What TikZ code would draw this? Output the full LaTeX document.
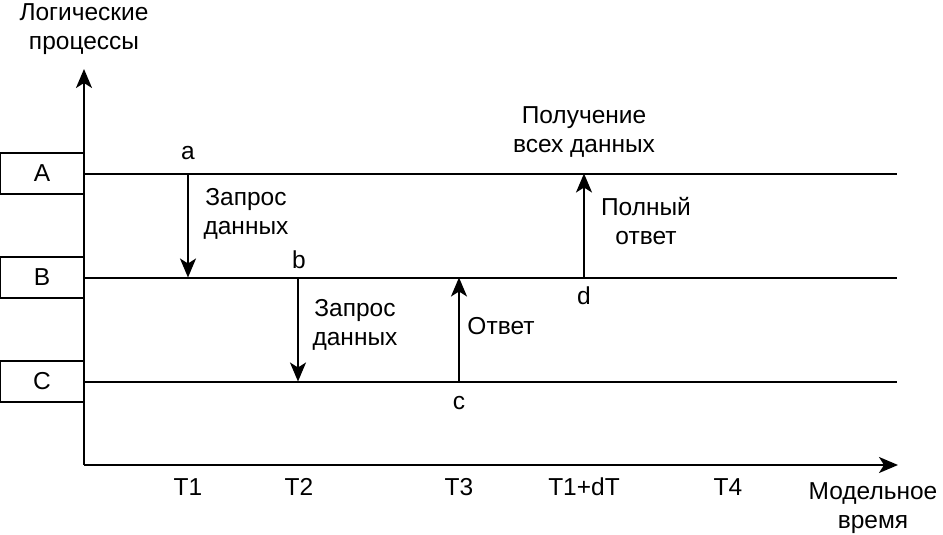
\documentclass[tikz,border=0pt]{standalone}
\usepackage{fontspec}
\setmainfont{Liberation Sans}
\usetikzlibrary{arrows.meta}
\begin{document}
\begin{tikzpicture}[x=1pt,y=-1pt,
  font=\fontsize{24.5}{29}\selectfont,
  ln/.style={line width=2pt},
  arr/.style={line width=2pt,-{Stealth[length=19pt,width=16pt,inset=5pt]}},
  proc/.style={draw,line width=2pt,minimum width=84pt,minimum height=41pt,inner sep=0pt},
  lbl/.style={align=center,inner sep=0pt}]
\useasboundingbox (0,0) rectangle (943,535);
% axes
\coordinate (o) at (84,465);
\coordinate (ytop) at (84,69);
\coordinate (xend) at (898,465);
\draw[arr] (o) -- (ytop);
\draw[arr] (o) -- (xend);
% process boxes
\node[proc] (A) at (42,173.5) {A};
\node[proc] (B) at (42,277.5) {B};
\node[proc] (C) at (42,381.5) {C};
% process lines
\coordinate (Ae) at (897,173.5);
\coordinate (Be) at (897,277.5);
\coordinate (Ce) at (897,381.5);
\draw[ln] (A.east) -- (Ae);
\draw[ln] (B.east) -- (Be);
\draw[ln] (C.east) -- (Ce);
% events
\coordinate (a1) at (188,173.5);
\coordinate (a2) at (188,277.5);
\coordinate (b1) at (298,277.5);
\coordinate (b2) at (298,381.5);
\coordinate (c1) at (459,381.5);
\coordinate (c2) at (459,277.5);
\coordinate (d1) at (584,277.5);
\coordinate (d2) at (584,173.5);
\draw[arr] (a1) -- (a2);
\draw[arr] (b1) -- (b2);
\draw[arr] (c1) -- (c2);
\draw[arr] (d1) -- (d2);
% event labels
\node[lbl] (la) at (188,153) {a};
\node[lbl] (lb) at (299,260) {b};
\node[lbl] (lc) at (459,403) {c};
\node[lbl] (ld) at (584,296) {d};
\node[lbl] (q1) at (246,214) {Запрос\\данных};
\node[lbl] (q2) at (355,325) {Запрос\\данных};
\node[lbl] (otv) at (501,326) {Ответ};
\node[lbl] (full) at (646,221) {Полный\\ответ};
\node[lbl] (get) at (584,132) {Получение\\всех данных};
% axis labels
\node[lbl] (yl) at (84,29) {Логические\\процессы};
\node[lbl] (xl) at (873,508) {Модельное\\время};
\node[lbl] (t1) at (188,487) {T1};
\node[lbl] (t2) at (299,487) {T2};
\node[lbl] (t3) at (459,487) {T3};
\node[lbl] (t4) at (584,487) {T1+dT};
\node[lbl] (t5) at (728,487) {T4};
\end{tikzpicture}
\end{document}
